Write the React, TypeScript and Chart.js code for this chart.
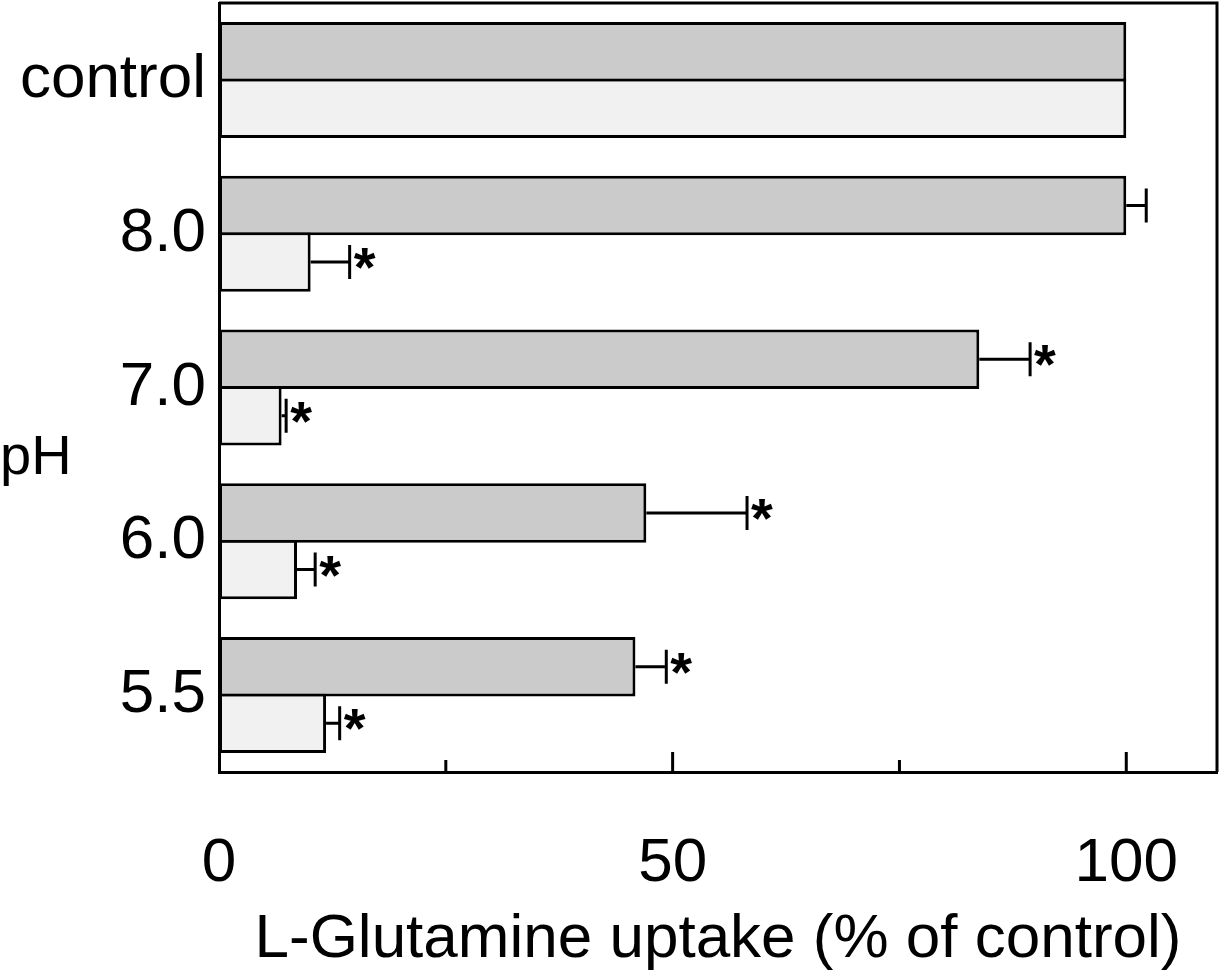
import { useEffect, useRef } from 'react';
import { Chart, registerables } from 'chart.js';

Chart.register(...registerables);

const categories = ['control', '8.0', '7.0', '6.0', '5.5'];

const darkValues = [100, 100, 83.8, 47.1, 45.9];
const darkErrors = [0, 2.2, 5.6, 11.1, 3.4];
const darkStars = [false, false, true, true, true];

const lightValues = [100, 10.1, 6.9, 8.6, 11.8];
const lightErrors = [0, 4.3, 0.5, 2.0, 1.5];
const lightStars = [false, true, true, true, true];

const xLabelTicks = [0, 50, 100];
const xMajorTicks = [50, 100];
const xMinorTicks = [25, 75];

const FONT = "'Liberation Sans', Arial, sans-serif";
const LINE = 3;

const errorBarPlugin = {
  id: 'errorBars',
  afterDatasetsDraw(chart: any) {
    const { ctx, scales, chartArea } = chart;
    const x = scales.x;
    const errs = [darkErrors, lightErrors];
    const stars = [darkStars, lightStars];
    const vals = [darkValues, lightValues];

    ctx.save();
    ctx.strokeStyle = '#000';
    ctx.fillStyle = '#000';
    ctx.lineWidth = LINE;

    // error bars + asterisks
    chart.data.datasets.forEach((_: any, di: number) => {
      const meta = chart.getDatasetMeta(di);
      meta.data.forEach((bar: any, i: number) => {
        const e = errs[di][i];
        const y = bar.y;
        let endX = bar.x;
        if (e > 0) {
          endX = x.getPixelForValue(vals[di][i] + e);
          ctx.beginPath();
          ctx.moveTo(bar.x, y);
          ctx.lineTo(endX, y);
          ctx.moveTo(endX, y - 17);
          ctx.lineTo(endX, y + 17);
          ctx.stroke();
        }
        if (stars[di][i]) {
          ctx.font = `bold 56px ${FONT}`;
          ctx.textAlign = 'left';
          ctx.textBaseline = 'alphabetic';
          ctx.fillText('*', endX + 4, y + 24);
        }
      });
    });

    // inward tick marks on the bottom axis
    ctx.beginPath();
    xMajorTicks.forEach((v) => {
      const px = x.getPixelForValue(v);
      ctx.moveTo(px, chartArea.bottom);
      ctx.lineTo(px, chartArea.bottom - 20);
    });
    xMinorTicks.forEach((v) => {
      const px = x.getPixelForValue(v);
      ctx.moveTo(px, chartArea.bottom);
      ctx.lineTo(px, chartArea.bottom - 12);
    });
    // top and right frame
    ctx.moveTo(chartArea.left, chartArea.top);
    ctx.lineTo(chartArea.right, chartArea.top);
    ctx.lineTo(chartArea.right, chartArea.bottom);
    ctx.stroke();

    // "pH" label at the left edge
    ctx.font = `56px ${FONT}`;
    ctx.textAlign = 'left';
    ctx.textBaseline = 'middle';
    ctx.fillText('pH', 0, chartArea.top + (chartArea.bottom - chartArea.top) * 0.593);
    ctx.restore();
  },
};

const App = () => {
  const chartRef = useRef<HTMLCanvasElement>(null);

  useEffect(() => {
    if (!chartRef.current) return;
    const chart = new Chart(chartRef.current, {
      type: 'bar',
      data: {
        labels: categories,
        datasets: [
          {
            label: 'Series 1',
            data: darkValues,
            backgroundColor: '#cbcbcb',
            borderColor: '#000',
            borderWidth: LINE,
            borderSkipped: false,
            categoryPercentage: 0.735,
            barPercentage: 1.053,
          },
          {
            label: 'Series 2',
            data: lightValues,
            backgroundColor: '#f1f1f1',
            borderColor: '#000',
            borderWidth: LINE,
            borderSkipped: false,
            categoryPercentage: 0.735,
            barPercentage: 1.053,
          },
        ],
      },
      options: {
        indexAxis: 'y',
        animation: false,
        responsive: true,
        maintainAspectRatio: false,
        layout: { padding: { left: 0, top: 3, right: 4, bottom: 0 } },
        plugins: {
          legend: { display: false },
          tooltip: { enabled: false },
        },
        scales: {
          x: {
            type: 'linear',
            position: 'bottom',
            min: 0,
            max: 110,
            afterBuildTicks: (s: any) => {
              s.ticks = xLabelTicks.map((v) => ({ value: v }));
            },
            afterFit: (s: any) => {
              s.height = 206;
              s.paddingLeft = 0;
              s.paddingRight = 0;
            },
            grid: { display: false, drawTicks: false },
            border: { display: true, color: '#000', width: LINE },
            ticks: {
              autoSkip: false,
              maxRotation: 0,
              padding: 55,
              color: '#000',
              font: { family: FONT, size: 62 },
            },
            title: {
              display: true,
              text: 'L-Glutamine uptake (% of control)',
              color: '#000',
              font: { family: FONT, size: 62 },
              padding: { top: 0, bottom: 1 },
            },
          },
          y: {
            type: 'category',
            afterFit: (s: any) => {
              s.width = 219;
              s.paddingTop = 0;
              s.paddingBottom = 0;
            },
            grid: { display: false, drawTicks: false },
            border: { display: true, color: '#000', width: LINE },
            ticks: {
              padding: 13,
              color: '#000',
              font: { family: FONT, size: 62 },
            },
          },
        },
      },
      plugins: [errorBarPlugin],
    });
    return () => chart.destroy();
  }, []);

  return (
    <div style={{ position: 'absolute', left: 0, top: 0, width: 1221, height: 978, background: '#fff' }}>
      <canvas ref={chartRef}></canvas>
    </div>
  );
};

export default App;
